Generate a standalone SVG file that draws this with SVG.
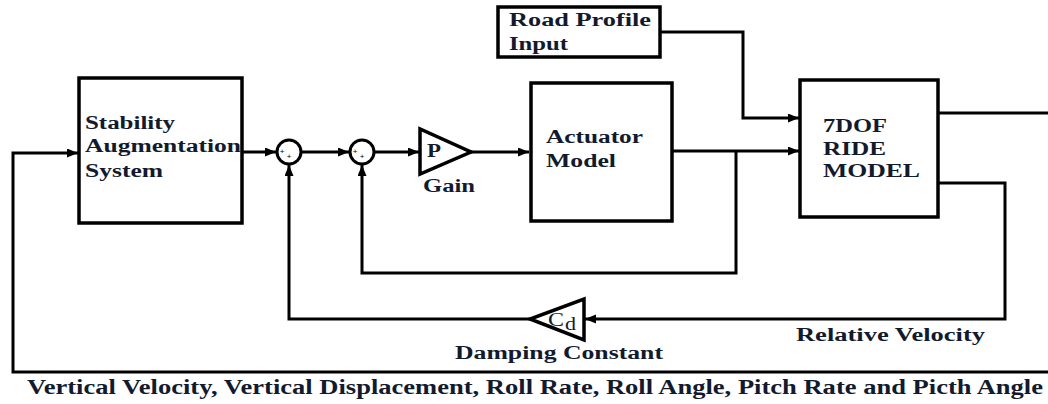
<svg xmlns="http://www.w3.org/2000/svg" width="1048" height="404" viewBox="0 0 1048 404">
<style>
.box{fill:#fff;stroke:#000;stroke-width:3.5}
.ln{fill:none;stroke:#000;stroke-width:3}
.lna{fill:none;stroke:#000;stroke-width:3;marker-end:url(#ah)}
.t{font-family:"Liberation Serif","Times New Roman",serif;font-weight:bold;font-size:18.5px;fill:#121a2e}
.tb{font-family:"Liberation Serif","Times New Roman",serif;font-weight:bold;font-size:20.5px;fill:#121a2e}
.pl{font-family:"Liberation Sans",Arial,sans-serif;font-size:8px;fill:#000;text-anchor:middle}
.cd{font-family:"Liberation Serif","Times New Roman",serif;font-size:19px;fill:#121a2e}
</style>
<defs>
<marker id="ah" markerUnits="userSpaceOnUse" markerWidth="12" markerHeight="10" refX="11" refY="4.5" orient="auto">
<path d="M0,0 L11,4.5 L0,9 z" fill="#000"/>
</marker>
</defs>
<rect width="1048" height="404" fill="#fff"/>

<g id="connectors">
<polyline class="lna" points="1048,372 13,372 13,153 78,153"/>
<line class="lna" x1="243" y1="152" x2="276" y2="152"/>
<line class="lna" x1="301" y1="152" x2="349" y2="152"/>
<line class="lna" x1="374" y1="152" x2="419" y2="152"/>
<line class="lna" x1="471" y1="152" x2="529" y2="152"/>
<line class="lna" x1="672" y1="151" x2="799" y2="151"/>
<polyline class="lna" points="660,32 743,32 743,118 799,118"/>
<polyline class="lna" points="736,151 736,273 362,273 362,165"/>
<polyline class="lna" points="938,183 1005,183 1005,319 585,319"/>
<polyline class="lna" points="530,319 289,319 289,165"/>
<line class="ln" x1="938" y1="113" x2="1048" y2="113"/>
</g>

<g id="stability">
<rect class="box" x="79" y="78" width="163" height="145"/>
<text class="t" x="85" y="129" textLength="90" lengthAdjust="spacingAndGlyphs">Stability</text>
<text class="t" x="85" y="152" textLength="156" lengthAdjust="spacingAndGlyphs">Augmentation</text>
<text class="t" x="85" y="177" textLength="78" lengthAdjust="spacingAndGlyphs">System</text>
</g>

<g id="sum1">
<circle cx="289" cy="152" r="12" fill="#fff" stroke="#000" stroke-width="3"/>
<text class="pl" x="282" y="153.5">+</text>
<text class="pl" x="289" y="158.5">+</text>
</g>

<g id="sum2">
<circle cx="362" cy="152" r="12" fill="#fff" stroke="#000" stroke-width="3"/>
<text class="pl" x="355" y="153.5">+</text>
<text class="pl" x="362" y="158.5">+</text>
</g>

<g id="gain">
<polygon points="420,129 420,174 471,152" fill="#fff" stroke="#000" stroke-width="3.5" stroke-linejoin="miter"/>
<text class="t" x="427" y="157" textLength="14" lengthAdjust="spacingAndGlyphs">P</text>
<text class="t" x="423" y="192" textLength="52" lengthAdjust="spacingAndGlyphs">Gain</text>
</g>

<g id="actuator">
<rect class="box" x="531" y="83" width="141" height="138"/>
<text class="t" x="546" y="143" textLength="97" lengthAdjust="spacingAndGlyphs">Actuator</text>
<text class="t" x="546" y="167" textLength="70" lengthAdjust="spacingAndGlyphs">Model</text>
</g>

<g id="road">
<rect class="box" x="498" y="7" width="162" height="50"/>
<text class="t" x="509" y="26" textLength="142" lengthAdjust="spacingAndGlyphs">Road Profile</text>
<text class="t" x="509" y="50" textLength="59" lengthAdjust="spacingAndGlyphs">Input</text>
</g>

<g id="ride">
<rect class="box" x="800" y="80" width="138" height="137"/>
<text class="t" x="823" y="132" textLength="64" lengthAdjust="spacingAndGlyphs">7DOF</text>
<text class="t" x="823" y="155" textLength="63" lengthAdjust="spacingAndGlyphs">RIDE</text>
<text class="t" x="823" y="177" textLength="97" lengthAdjust="spacingAndGlyphs">MODEL</text>
</g>

<g id="damping">
<polygon points="584,299 584,340 530,319" fill="#fff" stroke="#000" stroke-width="3.5"/>
<text class="cd" x="548" y="326" textLength="16" lengthAdjust="spacingAndGlyphs">C</text>
<text class="cd" x="565" y="330" font-size="14" textLength="11" lengthAdjust="spacingAndGlyphs">d</text>
<text class="t" x="455" y="359" textLength="208" lengthAdjust="spacingAndGlyphs">Damping Constant</text>
</g>

<g id="labels">
<text class="t" x="796" y="341" textLength="189" lengthAdjust="spacingAndGlyphs">Relative Velocity</text>
<text class="tb" x="27" y="394" textLength="1016" lengthAdjust="spacingAndGlyphs">Vertical Velocity, Vertical Displacement, Roll Rate, Roll Angle, Pitch Rate and Picth Angle</text>
</g>
</svg>
